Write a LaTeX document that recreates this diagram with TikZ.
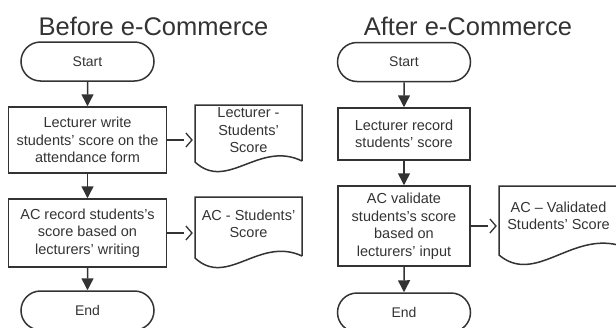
\documentclass[tikz,border=0pt]{standalone}
\usepackage{fontspec}
\setmainfont{Liberation Sans}
\usetikzlibrary{arrows.meta,shapes.misc,calc}
\definecolor{ink}{HTML}{333333}
\newcommand{\docoutline}[5]{%
  \draw[shapeline] ({#1+#3},{#4+(#5)}) -- ({#1+#3},{#2}) -- ({#1},{#2}) -- ({#1},{#4})
    .. controls ({#1+0.3*#3},{#4+30}) and ({#1+0.6*#3},{#4-22}) .. ({#1+#3},{#4+(#5)});}
\begin{document}
\begin{tikzpicture}[x=1pt,y=-1pt,
  shapeline/.style={draw=ink, line width=1.5pt},
  term/.style={shapeline, rounded rectangle, minimum width=133pt, minimum height=39pt,
    font=\fontsize{14}{17}\selectfont, text=ink, inner sep=0pt},
  proc/.style={shapeline, rectangle, font=\fontsize{14.5}{17.5}\selectfont,
    align=center, text=ink, inner sep=0pt},
  doctext/.style={font=\fontsize{14.5}{17.5}\selectfont, align=center, text=ink, inner sep=0pt},
  flow/.style={draw=ink, line width=1.5pt, -{Triangle[length=12pt,width=12pt]}},
  link/.style={draw=ink, line width=2.6pt, dash pattern=on 17pt off 60pt,
    -{Straight Barb[length=6pt,width=14pt,line width=1.3pt]}, shorten >=2pt},
  title/.style={font=\fontsize{25.5}{30}\selectfont, text=ink, anchor=base}]
\useasboundingbox (0,0) rectangle (616,327);

% titles
\node[title] (t1) at (153.5,35) {Before e-Commerce};
\node[title] (t2) at (468,35) {After e-Commerce};

% left flow
\node[term] (s1) at (87.5,61.5) {Start};
\node[proc, minimum width=158pt, minimum height=66pt] (b1) at (87.5,140)
  {Lecturer write\\students' score on the\\attendance form};
\node[proc, minimum width=158pt, minimum height=68pt] (b2) at (87.5,233)
  {AC record students's\\score based on\\lecturers' writing};
\node[term] (e1) at (87.5,310.5) {End};

\docoutline{195}{105}{107}{162}{-1}
\node[doctext, minimum width=107pt] (d1) at (248.5,130.5) {Lecturer -\\Students'\\Score};
\docoutline{195}{197}{107}{258}{-2}
\node[doctext, minimum width=107pt] (d2) at (248.5,224) {AC - Students'\\Score};

\draw[flow] (s1) -- (b1);
\draw[flow] (b1) -- (b2);
\draw[flow] (b2) -- (e1);
\draw[link] (b1.east) -- (b1.east -| d1.west);
\draw[link] (b2.east) -- (b2.east -| d2.west);

% right flow
\node[term] (s2) at (404,62) {Start};
\node[proc, minimum width=132pt, minimum height=52pt] (r1) at (404,134)
  {Lecturer record\\students' score};
\node[proc, minimum width=132pt, minimum height=80pt] (r2) at (404,226)
  {AC validate\\students's score\\based on\\lecturers' input};
\node[term] (e2) at (404,312.5) {End};

\docoutline{499}{186}{119}{255}{-10}
\node[doctext, minimum width=119pt] (d3) at (558.5,216) {AC – Validated\\Students' Score};

\draw[flow] (s2) -- (r1);
\draw[flow] (r1) -- (r2);
\draw[flow] (r2) -- (e2);
\draw[link] (r2.east) -- (r2.east -| d3.west);
\end{tikzpicture}
\end{document}
